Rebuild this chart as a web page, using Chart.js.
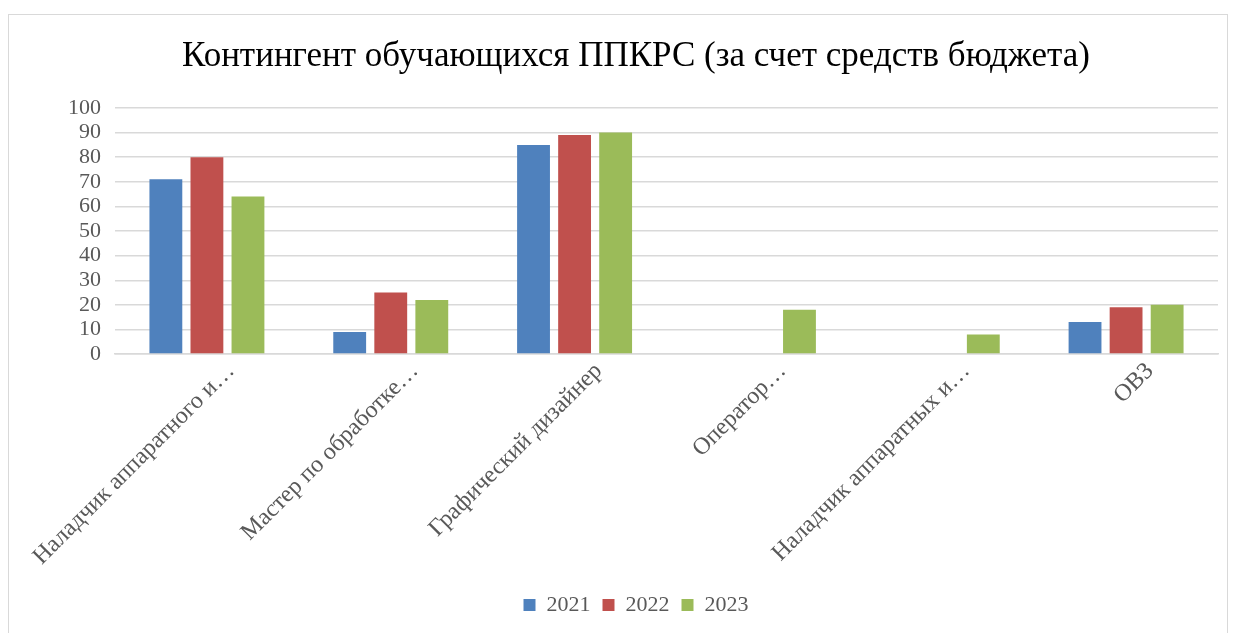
<!DOCTYPE html>
<html>
<head>
<meta charset="utf-8">
<script src="https://cdn.jsdelivr.net/npm/chart.js@4.4.0/dist/chart.umd.min.js"></script>
<style>
  html, body { margin: 0; padding: 0; background: #fff; }
  #box {
    position: absolute; left: 8px; top: 14px; width: 1220px; height: 640px;
    border: 1.5px solid #d9d9d9; box-sizing: border-box;
  }
  canvas { display: block; }
</style>
</head>
<body>
<div id="box"><canvas id="chart" width="1217" height="619"></canvas></div>
<script>
const categories = [
  "Наладчик аппаратного и…",
  "Мастер по обработке…",
  "Графический дизайнер",
  "Оператор…",
  "Наладчик аппаратных и…",
  "ОВЗ"
];
const seriesNames = ["2021", "2022", "2023"];
const values2021 = [71, 9, 85, 0, 0, 13];
const values2022 = [80, 25, 89, 0, 0, 19];
const values2023 = [64, 22, 90, 18, 8, 20];
const colors = ["#4f81bd", "#c0504d", "#9bbb59"];

const serif = "'Liberation Serif', 'Times New Roman', serif";

let ctx = document.getElementById("chart").getContext("2d");
let chart = new Chart(ctx, {
  type: "bar",
  data: {
    labels: categories,
    datasets: [values2021, values2022, values2023].map((d, i) => ({
      label: seriesNames[i],
      data: d,
      backgroundColor: colors[i],
      categoryPercentage: 0.67,
      barPercentage: 0.8,
    })),
  },
  options: {
    responsive: false,
    animation: false,
    layout: { padding: { left: 45, right: 8, top: 14, bottom: 8 } },
    plugins: {
      title: {
        display: true,
        text: "Контингент обучающихся ППКРС (за счет средств бюджета)",
        color: "#000",
        font: { family: serif, size: 35, weight: "normal" },
        padding: { top: 7, bottom: 30 },
      },
      legend: {
        position: "bottom",
        labels: {
          color: "#595959",
          font: { family: serif, size: 22 },
          boxWidth: 12,
          boxHeight: 12,
          padding: 12,
        },
      },
      tooltip: { enabled: false },
    },
    scales: {
      x: {
        grid: { display: false },
        border: { color: "#d9d9d9", width: 1.5 },
        ticks: {
          color: "#595959",
          font: { family: serif, size: 24 },
          minRotation: 45,
          maxRotation: 45,
          padding: -5,
          labelOffset: 24,
        },
        afterFit: (scale) => {
          // labels may hang out to the left, like in the original
          scale.paddingLeft = 0;
          scale.height += 16;
        },
      },
      y: {
        min: 0,
        max: 100,
        grid: { color: "#d9d9d9", lineWidth: 1.5, drawTicks: false },
        border: { display: false },
        ticks: {
          stepSize: 10,
          autoSkip: false,
          color: "#595959",
          font: { family: serif, size: 22 },
          padding: 14,
        },
      },
    },
  },
});
</script>
</body>
</html>
